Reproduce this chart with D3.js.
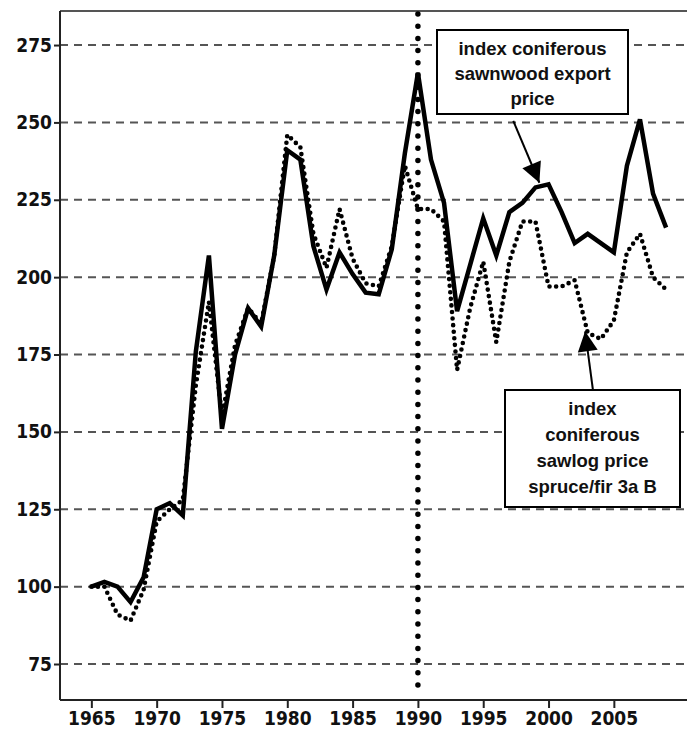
<!DOCTYPE html>
<html><head><meta charset="utf-8">
<script src="https://cdn.jsdelivr.net/npm/d3@7"></script>
<style>body{margin:0;background:#fff}svg{display:block}</style>
</head><body>
<svg id="c" width="687" height="735"></svg>
<script>
const years = d3.range(1965, 2010);
const exportPrice = [100,101.5,100,95,103,125,127,123,176,207,151,175,190,184,207,241,238,210,196,208,201,195,194.5,209,240,266,238,224,189,204,219,207,221,224,229,230,221,211,214,211,208,236,251,227,216];
const sawlogPrice = [100,100,91,89,99,121,125,128,165,192,155,178,190,185,207,246,242,214,203,222,206,198,197,210,236,222,222,218,170,190,205,179,205,218,218,197,197,199,182,180,186,208,214,200,196];
const yTicks = [75,100,125,150,175,200,225,250,275];
const xTicks = [1965,1970,1975,1980,1985,1990,1995,2000,2005];
const markerYear = 1990;
const label1 = ["index coniferous","sawnwood export","price"];
const label2 = ["index","coniferous","sawlog price","spruce/fir 3a B"];

const svg = d3.select("#c");
const L=60, T=11, R=687, B=700;
const x = d3.scaleLinear().domain([1962.6, 2010.6]).range([L, R]);
const y = d3.scaleLinear().domain([63.37, 286]).range([B, T]);
const tickFont = "'Liberation Sans Narrow','Arial Narrow','DejaVu Sans Condensed',sans-serif";

// grid
svg.append("g").selectAll("line").data(yTicks).join("line")
  .attr("x1", L).attr("x2", R).attr("y1", d=>y(d)).attr("y2", d=>y(d))
  .attr("stroke", "#555").attr("stroke-width", 2).attr("stroke-dasharray", "8,6");

// frame
svg.append("line").attr("x1", L).attr("x2", R).attr("y1", T).attr("y2", T).attr("stroke", "#555").attr("stroke-width", 2);

// axes
const ya = svg.append("g").attr("transform", `translate(${L},0)`)
  .call(d3.axisLeft(y).tickValues(yTicks).tickSize(6).tickPadding(2).tickFormat(d3.format("d")));
const xa = svg.append("g").attr("transform", `translate(0,${B})`)
  .call(d3.axisBottom(x).tickValues(xTicks).tickSize(8).tickPadding(4).tickFormat(d3.format("d")));
[ya, xa].forEach(g => {
  g.select(".domain").attr("stroke", "#222").attr("stroke-width", 2);
  g.selectAll(".tick line").attr("stroke", "#222").attr("stroke-width", 2);
  g.selectAll("text").attr("fill", "#111").style("font-family", tickFont)
    .style("font-size", "19px").style("font-weight", "bold");
});
ya.select(".domain").attr("d", `M0,${T}V${B}`);
xa.select(".domain").attr("d", `M${L},0H${R}`);

// 1990 marker
svg.append("line").attr("x1", x(markerYear)).attr("x2", x(markerYear)).attr("y1", T+3).attr("y2", B-6)
  .attr("stroke", "#000").attr("stroke-width", 5.5).attr("stroke-linecap", "round").attr("stroke-dasharray", "0,12.2");

const line = d3.line().x((d,i)=>x(years[i])).y(d=>y(d));
svg.append("path").datum(sawlogPrice).attr("d", line).attr("fill","none").attr("stroke","#000")
  .attr("stroke-width", 4.6).attr("stroke-linecap","round").attr("stroke-linejoin","round").attr("stroke-dasharray","0,6.6");
svg.append("path").datum(exportPrice).attr("d", line).attr("fill","none").attr("stroke","#000")
  .attr("stroke-width", 4.5).attr("stroke-linejoin","miter");

function box(x0,y0,w,h,lines,lh){
  svg.append("rect").attr("x",x0).attr("y",y0).attr("width",w).attr("height",h)
    .attr("fill","#fff").attr("stroke","#000").attr("stroke-width",2);
  svg.append("g").selectAll("text").data(lines).join("text")
    .attr("x", x0+w/2).attr("y",(d,i)=>y0+25+i*lh).attr("text-anchor","middle")
    .style("font-family","'Liberation Sans',Arial,sans-serif").style("font-size","18.5px").style("font-weight","bold")
    .attr("fill","#111").text(d=>d);
}
function arrow(x1,y1,x2,y2){
  svg.append("line").attr("x1",x1).attr("y1",y1).attr("x2",x2).attr("y2",y2)
    .attr("stroke","#000").attr("stroke-width",2);
  const a = Math.atan2(y2-y1,x2-x1), s=20, w=10;
  const bx = x2 - s*Math.cos(a), by = y2 - s*Math.sin(a);
  svg.append("path").attr("d",`M${x2},${y2}L${bx - w*Math.sin(a)},${by + w*Math.cos(a)}L${bx + w*Math.sin(a)},${by - w*Math.cos(a)}Z`).attr("fill","#000");
}
box(437, 30, 191, 84, label1, 25);
arrow(x(1997.3), y(250.5), x(1999.3), y(230.5));
box(505, 390, 175, 117, label2, 26);
arrow(x(2003.4), 390, x(2002.8), y(182.5));
</script>
</body></html>
